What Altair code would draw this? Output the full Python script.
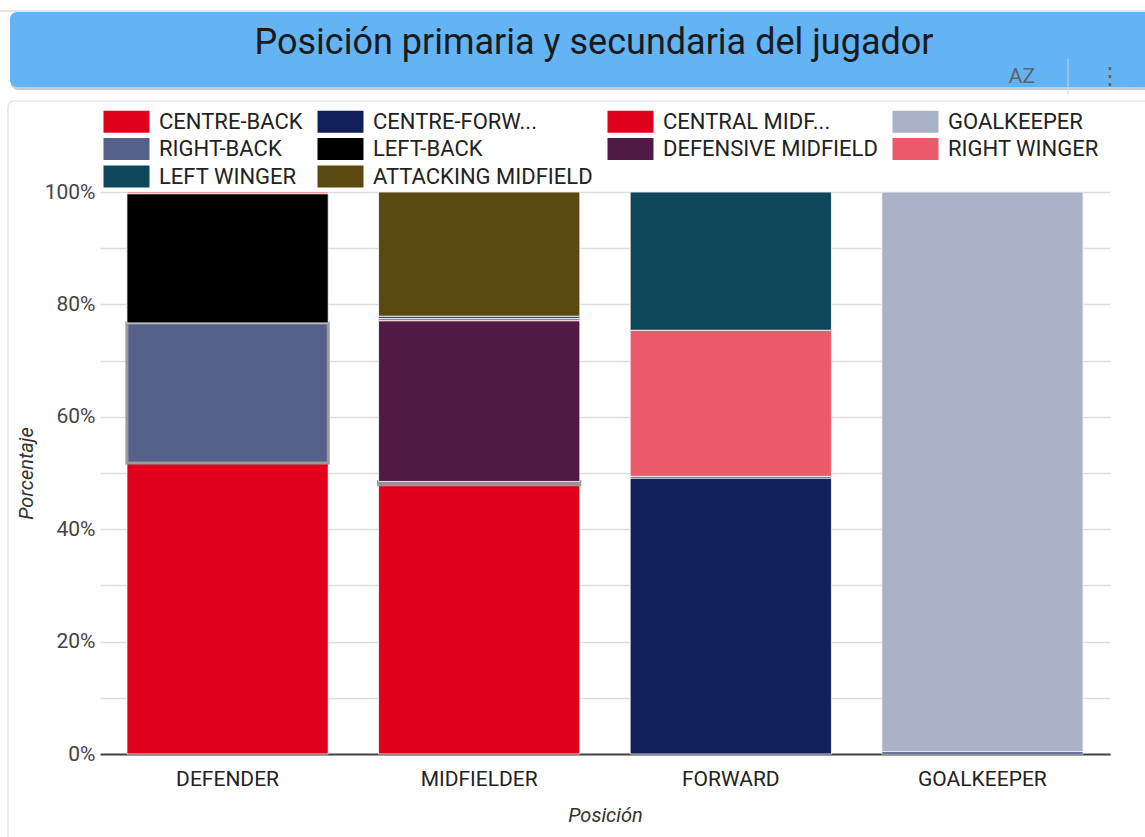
import altair as alt
import pandas as pd

# Primary positions (x axis)
posiciones = ["DEFENDER", "MIDFIELDER", "FORWARD", "GOALKEEPER"]

# Secondary positions, in legend / stacking order
secundarias = [
    "CENTRE-BACK", "CENTRE-FORWARD", "CENTRAL MIDFIELD", "GOALKEEPER",
    "RIGHT-BACK", "LEFT-BACK", "DEFENSIVE MIDFIELD", "RIGHT WINGER",
    "LEFT WINGER", "ATTACKING MIDFIELD",
]
colores = [
    "#e0001b", "#12205a", "#e0001b", "#abb1c6",
    "#556189", "#000000", "#511a46", "#eb5a6b",
    "#0f475a", "#5b4912",
]

# Share (%) of each secondary position within each primary position
defender = {"CENTRE-BACK": 51.8, "RIGHT-BACK": 24.9, "LEFT-BACK": 23.0, "RIGHT WINGER": 0.3}
midfielder = {"CENTRAL MIDFIELD": 47.9, "RIGHT-BACK": 0.6, "DEFENSIVE MIDFIELD": 28.6,
              "RIGHT WINGER": 0.4, "LEFT WINGER": 0.4, "ATTACKING MIDFIELD": 22.1}
forward = {"CENTRE-FORWARD": 49.1, "DEFENSIVE MIDFIELD": 0.3, "RIGHT WINGER": 26.0,
           "LEFT WINGER": 24.6}
goalkeeper = {"CENTRE-FORWARD": 0.4, "GOALKEEPER": 99.6}

filas = []
for pos, valores in zip(posiciones, [defender, midfielder, forward, goalkeeper]):
    for sec, v in valores.items():
        filas.append({"Posición": pos, "Secundaria": sec, "valor": v,
                      "orden": secundarias.index(sec)})
df = pd.DataFrame(filas)

FONT = "Roboto"
W, H = 1010, 562

# Wide legend swatch: path spans 3 x 1.44 units around the symbol centre
SWATCH = "M-1.5,-0.72H1.5V0.72H-1.5Z"

barras = alt.Chart(df).mark_bar().encode(
    x=alt.X("Posición:N", sort=posiciones,
            scale=alt.Scale(paddingInner=0.2, paddingOuter=0.107),
            axis=alt.Axis(title="Posición", labelAngle=0, labelFontSize=21,
                          labelColor="#222", labelFont=FONT, labelPadding=14,
                          ticks=False, domainColor="#444", domainWidth=2,
                          titleFont=FONT, titleFontSize=20, titleFontStyle="italic",
                          titleFontWeight="normal", titleColor="#333",
                          titlePadding=16)),
    y=alt.Y("valor:Q", stack="normalize",
            scale=alt.Scale(domain=[0, 1], nice=False),
            axis=alt.Axis(title="Porcentaje", format=".0%",
                          values=[i / 10 for i in range(11)],
                          labelExpr="round(datum.value*100) % 20 == 0 ? datum.label : ''",
                          labelFontSize=21, labelColor="#444", labelFont=FONT,
                          labelPadding=5, ticks=False, domain=False,
                          gridColor="#dddddd", gridWidth=1.5,
                          titleFont=FONT, titleFontSize=20, titleFontStyle="italic",
                          titleFontWeight="normal", titleColor="#333",
                          titlePadding=8)),
    color=alt.Color("Secundaria:N",
                    scale=alt.Scale(domain=secundarias, range=colores),
                    legend=alt.Legend(
                        title=None, orient="none", legendX=11, legendY=-86,
                        direction="horizontal", columns=4,
                        symbolType=SWATCH, symbolSize=940,
                        symbolStrokeWidth=0, symbolOpacity=1,
                        labelFont=FONT, labelFontSize=22, labelColor="#222",
                        labelOffset=17, labelLimit=400,
                        columnPadding=14, rowPadding=0.5,
                        labelExpr="datum.label == 'CENTRE-FORWARD' ? 'CENTRE-FORW...' : "
                                  "datum.label == 'CENTRAL MIDFIELD' ? 'CENTRAL MIDF...' : datum.label",
                    )),
    order=alt.Order("orden:Q", sort="ascending"),
    stroke=alt.condition("datum.Secundaria == 'RIGHT-BACK'", alt.value("#9a9a9a"), alt.value("#ffffff")),
    strokeWidth=alt.condition("datum.Secundaria == 'RIGHT-BACK'", alt.value(3), alt.value(0.8)),
)

uno = pd.DataFrame({"k": [0]})
base = alt.Chart(uno)

# Card outline and top divider
tarjeta = base.mark_rect(fill="transparent", stroke="#e6e6e6", strokeWidth=1.5, cornerRadius=6).encode(
    x=alt.value(-92), x2=alt.value(1060), y=alt.value(-91), y2=alt.value(700))
divisor = base.mark_rule(color="#dcdcdc", strokeWidth=1.5).encode(
    x=alt.value(-100), x2=alt.value(1045), y=alt.value(-181))

# Title banner with soft shadow
sombra = base.mark_rect(fill="#8f99a3", opacity=0.5, cornerRadius=7).encode(
    x=alt.value(-89), x2=alt.value(1060), y=alt.value(-178), y2=alt.value(-102))
banda = base.mark_rect(fill="#63b3f5", cornerRadius=7).encode(
    x=alt.value(-90), x2=alt.value(1060), y=alt.value(-180), y2=alt.value(-105))
titulo = base.mark_text(text="Posición primaria y secundaria del jugador",
                        font=FONT, fontSize=36, color="#1a1a1a",
                        align="center", baseline="middle").encode(
    x=alt.value(494), y=alt.value(-149))
az = base.mark_text(text="AZ", font=FONT, fontSize=21, color="#5f6368",
                    align="center", baseline="middle").encode(
    x=alt.value(922), y=alt.value(-115))
sep = base.mark_rule(color="#c9d9e6", strokeWidth=1).encode(
    x=alt.value(968), y=alt.value(-133), y2=alt.value(-97))
menu = base.mark_text(text="⋮", font="DejaVu Sans", fontSize=24, color="#5f6368",
                      align="center", baseline="middle").encode(
    x=alt.value(1010), y=alt.value(-115))

chart = alt.layer(tarjeta, divisor, sombra, banda, titulo, az, sep, menu, barras).properties(
    width=W, height=H,
    autosize=alt.AutoSizeParams(type="none"),
    padding={"left": 100, "top": 192, "right": 35, "bottom": 83},
    background="#ffffff",
).configure_view(stroke=None).configure_legend(symbolStrokeWidth=0)

chart.save("out.html", embed_options={"renderer": "svg", "actions": False})
